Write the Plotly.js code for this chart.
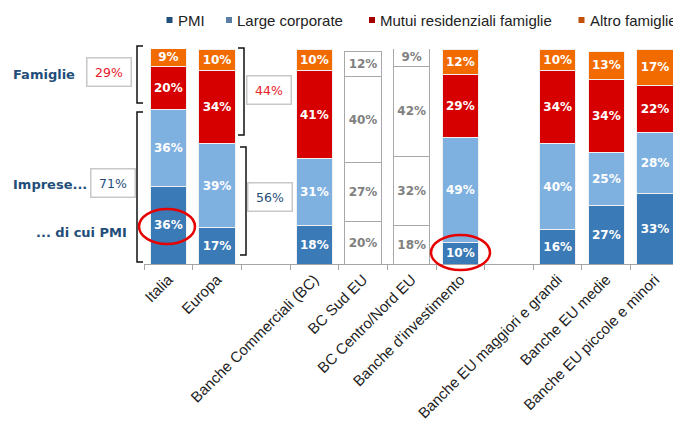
<!DOCTYPE html>
<html>
<head>
<meta charset="utf-8">
<script src="https://cdn.plot.ly/plotly-3.0.1.min.js"></script>
<style>
  html, body { margin: 0; padding: 0; background: #fff; }
  #chart { width: 673px; height: 423px; }
</style>
</head>
<body>
<div id="chart"></div>
<script>
// categorie (due vuote per gli spazi tra i gruppi)
const categories = ['Italia', 'Europa', ' ', 'Banche Commerciali (BC)', 'BC Sud EU', 'BC Centro/Nord EU',
  "Banche d'investimento", '  ', 'Banche EU maggiori e grandi', 'Banche EU medie', 'Banche EU piccole e minori'];
const pmi    = [36, 17, null, 18, 20, 18, 10, null, 16, 27, 33];
const large  = [36, 39, null, 31, 27, 32, 49, null, 40, 25, 28];
const mutui  = [20, 34, null, 41, 40, 42, 29, null, 34, 34, 22];
const altro  = [ 9, 10, null, 10, 12,  9, 12, null, 10, 13, 17];
const seriesNames = ['PMI', 'Large corporate', 'Mutui residenziali famiglie', 'Altro famiglie'];
const famiglieTot = ['29%', '44%'];
const impreseTot = ['71%', '56%'];

// bar geometry in pixels: plot from x=144 to 673, y=49 to 264
const L = 144, W = 529, B = 264, H = 215;
const px = x => (x - L) / W;
const py = y => (B - y) / H;

const barColors = ['#3A7AB6', '#7FB1E0', '#D70000', '#F26B00'];
const legendColors = ['#1F4E79', '#5B7FA3', '#A50000', '#C0500A'];
const plainBars = [4, 5]; // BC Sud EU, BC Centro/Nord EU drawn white

function makeTrace(values, i) {
  const fill = categories.map((c, k) => plainBars.includes(k) ? '#FFFFFF' : barColors[i]);
  const edge = categories.map((c, k) => plainBars.includes(k) ? '#A8A8A8' : '#F0F0F0');
  const txt = categories.map((c, k) => plainBars.includes(k) ? '#808080' : '#FFFFFF');
  return {
    type: 'bar',
    x: categories,
    y: values,
    name: seriesNames[i],
    width: 0.74,
    marker: { color: fill, line: { color: edge, width: 1 } },
    texttemplate: '%{y}%',
    textposition: 'inside',
    insidetextanchor: 'middle',
    textangle: 0,
    textfont: { family: 'DejaVu Sans', size: 12, color: txt, weight: 'bold' },
    hoverinfo: 'skip',
    showlegend: false
  };
}

const data = [pmi, large, mutui, altro].map(makeTrace);

const shapes = [];
const annotations = [];

// legend drawn by hand (small squares)
const legendSquareX = [166.5, 226, 369, 578.5];
legendColors.forEach((col, i) => {
  shapes.push({
    type: 'rect', xref: 'paper', yref: 'paper',
    x0: px(legendSquareX[i]), x1: px(legendSquareX[i] + 6),
    y0: py(23), y1: py(17),
    fillcolor: col, line: { width: 0 }
  });
  annotations.push({
    xref: 'paper', yref: 'paper', x: px(legendSquareX[i] + 9), y: py(20),
    xanchor: 'left', yanchor: 'middle', showarrow: false,
    text: seriesNames[i],
    font: { family: 'Liberation Sans', size: 15, color: '#222' }
  });
});

// brackets
function bracket(x, y0, y1, dir) {
  const a = px(x), b = px(x + dir * 6);
  return {
    type: 'path', xref: 'paper', yref: 'paper',
    path: `M ${b} ${py(y0)} L ${a} ${py(y0)} L ${a} ${py(y1)} L ${b} ${py(y1)}`,
    line: { color: '#111', width: 1.5 }
  };
}
shapes.push(bracket(137, 46, 103, 1));
shapes.push(bracket(137, 112, 262, 1));
shapes.push(bracket(244, 48, 135, -1));
shapes.push(bracket(246, 147, 255, -1));

// red circles
shapes.push({ type: 'circle', xref: 'paper', yref: 'paper',
  x0: px(139), x1: px(195), y0: py(244), y1: py(209),
  line: { color: '#E60000', width: 2.5 } });
shapes.push({ type: 'circle', xref: 'paper', yref: 'paper',
  x0: px(431), x1: px(490), y0: py(270), y1: py(235),
  line: { color: '#E60000', width: 2.5 } });

// left labels
const labelFont = { family: 'DejaVu Sans', size: 13, color: '#1F4E79', weight: 'bold' };
[['Famiglie', 13, 74], ['Imprese...', 13, 184], ['... di cui PMI', 36, 232]].forEach(([t, x, y]) => {
  annotations.push({ xref: 'paper', yref: 'paper', x: px(x - 2), y: py(y),
    xanchor: 'left', yanchor: 'middle', showarrow: false, text: t, font: labelFont });
});

// boxed totals
function box(text, cx, cy, color) {
  annotations.push({ xref: 'paper', yref: 'paper', x: px(cx), y: py(cy),
    xanchor: 'center', yanchor: 'middle', showarrow: false, text: text,
    width: 41, height: 25, borderpad: 1, bordercolor: '#C8C8C8', borderwidth: 1.5, bgcolor: '#fff',
    font: { family: 'DejaVu Sans', size: 12.5, color: color } });
}
box(famiglieTot[0], 108.5, 71.5, '#E8202A');
box(famiglieTot[1], 268.5, 89.5, '#E8202A');
box(impreseTot[0], 113, 183, '#1F4E79');
box(impreseTot[1], 270, 196.5, '#1F4E79');

const layout = {
  width: 673,
  height: 423,
  barmode: 'stack',
  margin: { l: L, r: 0, t: 49, b: 423 - B },
  paper_bgcolor: '#fff',
  plot_bgcolor: '#fff',
  font: { family: 'Liberation Sans', color: '#222' },
  xaxis: {
    type: 'category',
    range: [-0.5, 10.37],
    tickangle: -45,
    tickfont: { family: 'Liberation Sans', size: 15, color: '#222' },
    showline: true, linecolor: '#A6A6A6', linewidth: 1,
    ticks: 'outside', tickson: 'boundaries', ticklen: 5, tickcolor: '#A6A6A6',
    showgrid: false, fixedrange: true
  },
  yaxis: {
    range: [0, 100],
    visible: false,
    showgrid: false,
    zeroline: false,
    fixedrange: true
  },
  uniformtext: { mode: 'show', minsize: 12 },
  showlegend: false,
  shapes: shapes,
  annotations: annotations
};

Plotly.newPlot('chart', data, layout, { displayModeBar: false, staticPlot: true });
</script>
</body>
</html>
